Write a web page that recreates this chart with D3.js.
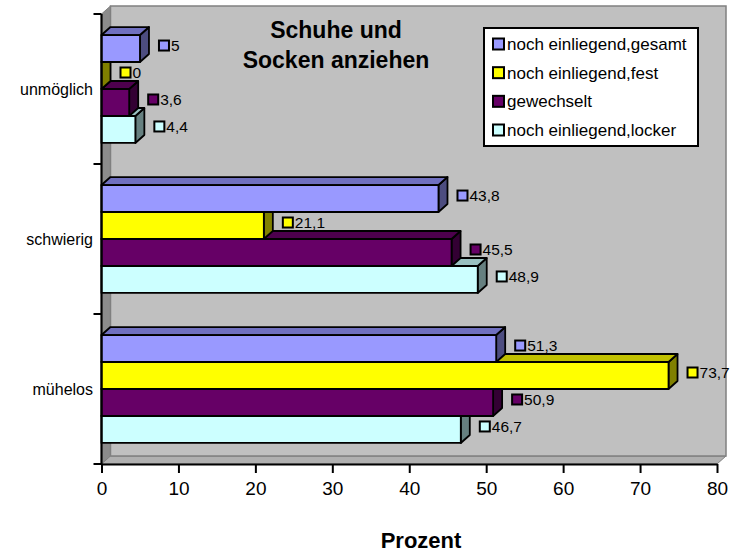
<!DOCTYPE html>
<html>
<head>
<meta charset="utf-8">
<script src="https://cdn.jsdelivr.net/npm/d3@7"></script>
<style>
  html, body { margin: 0; padding: 0; background: #ffffff; }
  svg { display: block; font-family: "Liberation Sans", Arial, sans-serif; }
</style>
</head>
<body>
<script>
// ---- data ----
const categories = ["unmöglich", "schwierig", "mühelos"];
const seriesNames = ["noch einliegend,gesamt", "noch einliegend,fest", "gewechselt", "noch einliegend,locker"];
const gesamt = [5, 43.8, 51.3];
const fest = [0, 21.1, 73.7];
const gewechselt = [3.6, 45.5, 50.9];
const locker = [4.4, 48.9, 46.7];
const xTicks = [0, 10, 20, 30, 40, 50, 60, 70, 80];
const titleLines = ["Schuhe und", "Socken anziehen"];
const xTitle = "Prozent";

const seriesValues = [gesamt, fest, gewechselt, locker];
const colors = [
  { front: "#9999ff", top: "#7070c0", side: "#4d4d80" },
  { front: "#ffff00", top: "#c0c000", side: "#808000" },
  { front: "#660066", top: "#4d004d", side: "#330033" },
  { front: "#ccffff", top: "#99c0c0", side: "#668080" }
];

const W = 733, H = 553;
const DX = 9, DY = -8;

const svg = d3.select("body").append("svg").attr("width", W).attr("height", H);

const x = d3.scaleLinear().domain([0, 80]).range([101.5, 717]);
const y0 = d3.scaleBand().domain(categories).range([14, 464]);
const y1 = d3.scaleBand().domain(seriesNames).range([0, y0.bandwidth()]).paddingInner(0).paddingOuter(0.78);

const yTop = y0.range()[0], yBot = y0.range()[1];
const xL = x(0), xR = x(80);

svg.append("defs").append("clipPath").attr("id", "wallclip")
  .append("rect").attr("x", xL).attr("y", yTop + DY).attr("width", xR + DX - xL - 1).attr("height", yBot - yTop);

// ---- walls ----
svg.append("polygon")
  .attr("points", [[xL, yTop], [xL + DX, yTop + DY], [xL + DX, yBot + DY], [xL, yBot]].join(" "))
  .attr("fill", "#8c8c8c").attr("stroke", "#808080").attr("stroke-width", 1);
svg.append("polygon")
  .attr("points", [[xL, yBot], [xL + DX, yBot + DY], [xR + DX, yBot + DY], [xR, yBot]].join(" "))
  .attr("fill", "#b0b0b0").attr("stroke", "#808080").attr("stroke-width", 1);
svg.append("rect")
  .attr("x", xL + DX).attr("y", yTop + DY)
  .attr("width", xR - xL).attr("height", yBot - yTop)
  .attr("fill", "#c0c0c0").attr("stroke", "#808080").attr("stroke-width", 1.5);

// ---- bars ----
const barsG = svg.append("g");
categories.forEach((cat, ci) => {
  for (let si = seriesNames.length - 1; si >= 0; si--) {
    const v = seriesValues[si][ci];
    const t = y0(cat) + y1(seriesNames[si]);
    const h = y1.bandwidth();
    const e = x(v);
    const c = colors[si];
    const g = barsG.append("g").attr("stroke", "#000").attr("stroke-width", 1.8).attr("stroke-linejoin", "round");
    g.append("polygon")
      .attr("points", [[e, t], [e + DX, t + DY], [e + DX, t + h + DY], [e, t + h]].join(" "))
      .attr("fill", c.side);
    g.append("polygon")
      .attr("points", [[xL, t], [e, t], [e + DX, t + DY], [xL + DX, t + DY]].join(" "))
      .attr("fill", c.top);
    g.append("rect")
      .attr("x", xL).attr("y", t).attr("width", Math.max(0, e - xL)).attr("height", h)
      .attr("fill", c.front);
  }
});

// ---- data labels ----
const labBg = svg.append("g").attr("clip-path", "url(#wallclip)");
const labG = svg.append("g");
categories.forEach((cat, ci) => {
  seriesNames.forEach((s, si) => {
    const v = seriesValues[si][ci];
    const t = y0(cat) + y1(s);
    const h = y1.bandwidth();
    const cy = t + h / 2 - 3;
    const sx = x(v) + 19;
    const txt = String(v).replace(".", ",");
    const tw = txt.length * 8.7;
    labBg.append("rect").attr("x", sx - 1).attr("y", cy - 7).attr("width", 14 + tw).attr("height", 14)
      .attr("fill", "#c0c0c0");
    const g = labG.append("g");
    g.append("rect").attr("x", sx).attr("y", cy - 5).attr("width", 10).attr("height", 10)
      .attr("fill", colors[si].front).attr("stroke", "#000").attr("stroke-width", 2);
    g.append("text").attr("x", sx + 12).attr("y", cy).attr("dy", "0.36em")
      .attr("font-size", 15.5).attr("fill", "#000").text(txt);
  });
});

// ---- y axis ----
const yAx = svg.append("g");
yAx.append("line").attr("x1", xL).attr("x2", xL).attr("y1", yTop).attr("y2", yBot)
  .attr("stroke", "#000").attr("stroke-width", 2.2);
const bounds = categories.map(c => y0(c)).concat([yBot]);
yAx.selectAll("line.tk").data(bounds).join("line").attr("class", "tk")
  .attr("x1", xL - 8).attr("x2", xL).attr("y1", d => d).attr("y2", d => d)
  .attr("stroke", "#000").attr("stroke-width", 2);
yAx.selectAll("text").data(categories).join("text")
  .attr("x", 93).attr("y", d => y0(d) + y0.bandwidth() / 2).attr("dy", "0.36em")
  .attr("text-anchor", "end").attr("font-size", 16).attr("fill", "#000").text(d => d);

// ---- x axis ----
const xAxis = d3.axisBottom(x).tickValues(xTicks).tickSize(9).tickSizeOuter(0).tickPadding(9)
  .tickFormat(d => String(d));
const xg = svg.append("g").attr("transform", `translate(0,${yBot})`).call(xAxis);
xg.select(".domain").attr("stroke", "#000").attr("stroke-width", 2.2);
xg.selectAll(".tick line").attr("stroke", "#000").attr("stroke-width", 2);
xg.selectAll(".tick text").attr("font-size", 19).attr("fill", "#000")
  .attr("font-family", "Liberation Sans, Arial, sans-serif");

// ---- title ----
svg.append("g").selectAll("text").data(titleLines).join("text")
  .attr("x", 336).attr("y", (d, i) => 38 + i * 30)
  .attr("text-anchor", "middle").attr("font-size", 23).attr("font-weight", "bold")
  .attr("fill", "#000").text(d => d);

// ---- x title ----
svg.append("text").attr("x", 421).attr("y", 548).attr("text-anchor", "middle")
  .attr("font-size", 22).attr("font-weight", "bold").attr("fill", "#000").text(xTitle);

// ---- legend ----
const lg = svg.append("g");
lg.append("rect").attr("x", 484).attr("y", 28).attr("width", 214).attr("height", 118)
  .attr("fill", "#fff").attr("stroke", "#000").attr("stroke-width", 2);
const ly = d3.scalePoint().domain(seriesNames).range([44, 130]);
seriesNames.forEach((s, i) => {
  lg.append("rect").attr("x", 493).attr("y", ly(s) - 5.5).attr("width", 11).attr("height", 11)
    .attr("fill", colors[i].front).attr("stroke", "#000").attr("stroke-width", 2);
  lg.append("text").attr("x", 507).attr("y", ly(s)).attr("dy", "0.36em")
    .attr("font-size", 17).attr("fill", "#000").text(s);
});
</script>
</body>
</html>
